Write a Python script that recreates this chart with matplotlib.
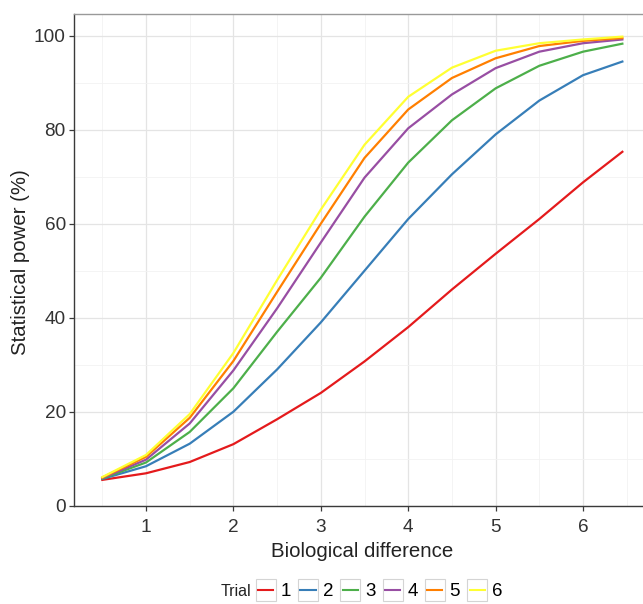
#!/usr/bin/env python3
"""
Power curves by trial: statistical power vs biological difference
"""

import matplotlib
matplotlib.use('Agg')
import matplotlib.pyplot as plt
from matplotlib.legend_handler import HandlerBase
from matplotlib.lines import Line2D
from matplotlib.patches import Rectangle
from matplotlib.ticker import MultipleLocator

# Values
bio_diff = [0.5, 1.0, 1.5, 2.0, 2.5, 3.0, 3.5, 4.0, 4.5, 5.0, 5.5, 6.0, 6.45]
trial_1 = [5.5, 6.9, 9.3, 13.1, 18.4, 24.0, 30.7, 38.0, 46.0, 53.6, 61.0, 68.8, 75.3]
trial_2 = [5.7, 8.4, 13.2, 20.0, 29.0, 39.0, 50.0, 61.0, 70.5, 79.0, 86.2, 91.6, 94.5]
trial_3 = [5.8, 9.2, 15.7, 25.0, 37.0, 48.5, 61.5, 73.0, 82.0, 88.8, 93.6, 96.6, 98.3]
trial_4 = [5.9, 9.8, 17.5, 28.8, 42.0, 56.0, 69.8, 80.3, 87.5, 93.1, 96.6, 98.4, 99.2]
trial_5 = [6.0, 10.4, 18.7, 30.8, 45.5, 60.0, 74.0, 84.3, 91.0, 95.2, 97.8, 98.9, 99.5]
trial_6 = [6.1, 10.8, 19.5, 32.5, 48.0, 63.0, 76.8, 87.0, 93.2, 96.8, 98.4, 99.2, 99.8]

trial_names = ['1', '2', '3', '4', '5', '6']
trial_values = [trial_1, trial_2, trial_3, trial_4, trial_5, trial_6]
x_ticks = [1, 2, 3, 4, 5, 6]
y_ticks = [0, 20, 40, 60, 80, 100]

# ColorBrewer Set1
colors = ['#E41A1C', '#377EB8', '#4DAF4A', '#984EA3', '#FF7F00', '#FFFF33']


class BoxedKey(HandlerBase):
    """Legend key drawn as a short line inside a light grey box"""

    def create_artists(self, legend, orig_handle, xdescent, ydescent,
                       width, height, fontsize, trans):
        x0, y0 = -xdescent, -ydescent
        box = Rectangle((x0, y0), width, height, facecolor='white',
                        edgecolor='#d4d4d4', linewidth=0.8, transform=trans)
        pad = 0.12 * width
        line = Line2D([x0 + pad, x0 + width - pad], [y0 + height / 2] * 2,
                      color=orig_handle.get_color(), linewidth=1.5,
                      transform=trans)
        return [box, line]


def make_chart():
    plt.rcParams['font.family'] = ['Liberation Sans', 'DejaVu Sans']

    fig = plt.figure(figsize=(6.43, 6.04), dpi=100)
    # panel runs past the right edge, like the cropped original
    ax = fig.add_axes([0.1156, 0.1627, 0.8958, 0.814])

    handles = []
    for name, vals, col in zip(trial_names, trial_values, colors):
        h, = ax.plot(bio_diff, vals, color=col, linewidth=1.6,
                     solid_joinstyle='round', label=name, zorder=3)
        handles.append(h)

    ax.set_xlim(0.18, 6.77)
    ax.set_ylim(0, 104.6)
    ax.set_xticks(x_ticks)
    ax.set_yticks(y_ticks)
    ax.xaxis.set_minor_locator(MultipleLocator(0.5))
    ax.yaxis.set_minor_locator(MultipleLocator(10))

    # grid
    ax.grid(True, which='major', color='#e4e4e4', linewidth=0.9, zorder=0)
    ax.grid(True, which='minor', color='#f2f2f2', linewidth=0.6, zorder=0)
    ax.set_axisbelow(True)

    # spines
    for side in ['left', 'bottom']:
        ax.spines[side].set_color('#3a3a3a')
        ax.spines[side].set_linewidth(1.0)
    ax.spines['top'].set_color('#999999')
    ax.spines['top'].set_linewidth(1.0)
    ax.spines['right'].set_visible(False)

    ax.tick_params(which='major', length=3.6, width=0.9, color='#3a3a3a',
                   labelsize=13.7, labelcolor='#333333')
    ax.tick_params(axis='x', which='major', pad=6)
    ax.tick_params(axis='y', which='major', pad=2.5)
    ax.tick_params(which='minor', length=0)

    ax.set_xlabel('Biological difference', fontsize=14.7, color='#222222',
                  labelpad=4)
    fig.text(21 / 643, 1 - 262 / 604, 'Statistical power (%)', rotation=90,
             fontsize=14.7, color='#222222', ha='center', va='center')

    # legend along the bottom
    fig.text(251 / 643, 1 - 591 / 604, 'Trial', fontsize=11.5,
             color='#222222', ha='right', va='center')
    fig.legend(handles=handles, labels=trial_names, ncol=6, frameon=False,
               loc='center', bbox_to_anchor=(379 / 643, 1 - 590 / 604),
               fontsize=13.5, handlelength=1.07, handleheight=1.5,
               handletextpad=0.25, columnspacing=0.38, borderpad=0,
               handler_map={Line2D: BoxedKey()})

    plt.savefig('out.png', dpi=100)
    plt.close()


if __name__ == "__main__":
    make_chart()
